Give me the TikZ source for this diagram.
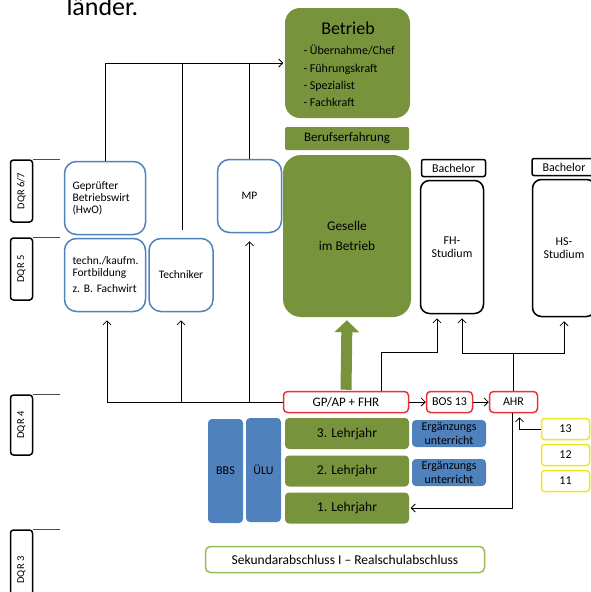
\documentclass[tikz,border=0pt]{standalone}
\usepackage{fontspec}
\setmainfont{Carlito}
\usetikzlibrary{arrows.meta}
\definecolor{olivgruen}{RGB}{119,147,60}
\definecolor{blau}{RGB}{79,129,189}
\definecolor{rot}{RGB}{238,48,48}
\definecolor{gelb}{RGB}{238,230,30}
\definecolor{hellgruen}{RGB}{155,187,89}
\tikzset{
	pfeil/.style={-{Straight Barb[length=4pt,width=8pt]}, line width=0.8pt},
	linie/.style={line width=0.8pt},
	box/.style={inner sep=0pt, text=black},
	gruenbox/.style={box, fill=olivgruen, rounded corners=4pt},
	blaubox/.style={box, fill=blau, rounded corners=4pt},
	blaurahmen/.style={box, draw=blau, line width=1.5pt, fill=white, rounded corners=12pt,
		minimum height=73pt, font=\fontsize{11.5}{12}\selectfont},
	rotrahmen/.style={box, draw=rot, line width=1.5pt, fill=white, rounded corners=4pt,
		minimum height=21pt},
	gelbrahmen/.style={box, draw=gelb, line width=1.5pt, rounded corners=3pt,
		minimum width=48pt, minimum height=21pt, font=\fontsize{12}{14}\selectfont},
	studium/.style={box, draw=black, line width=1.5pt, rounded corners=9pt,
		minimum width=63pt, align=center, font=\fontsize{12}{13}\selectfont},
	bachelor/.style={box, draw=black, line width=1.5pt, rounded corners=2pt,
		minimum height=17pt, font=\fontsize{12}{14}\selectfont},
	dqr/.style={box, draw=black, line width=1.5pt, rounded corners=3pt, rotate=90,
		minimum height=22pt, font=\fontsize{10.5}{12}\selectfont},
	dqrlinie/.style={line width=0.8pt, draw=black!70}
}
\begin{document}
\begin{tikzpicture}[x=1pt,y=-1pt]
	\useasboundingbox (0,0) rectangle (591,592);
	\clip (0,0) rectangle (591,592);
	\newcommand{\dqrStufe}[4]{
		% zeichnet eine DQR-Stufe am linken Rand
		% args:
		%     name
		%     mitte (y)
		%     laenge
		%     text
		\node[dqr, minimum width=#3pt] (#1) at (21.5,#2) {#4};
		\draw[dqrlinie] (#1.south east) -- ++(27,0);
	}
	% rest der ueberschrift
	\node[anchor=base west, font=\fontsize{26}{30}\selectfont] (titelrest) at (63,15.5) {länder.};
	%
	% DQR-Stufen
	\dqrStufe{dqr67}{191}{62}{DQR 6/7}
	\dqrStufe{dqr5}{269}{62}{DQR 5}
	\dqrStufe{dqr4}{425}{60}{DQR 4}
	\dqrStufe{dqr3}{570}{80}{DQR 3}
	%
	% Betrieb oben
	\node[gruenbox, rounded corners=15pt, minimum width=125pt, minimum height=110pt] (betrieb) at (347.5,63) {};
	\node[font=\fontsize{18}{20}\selectfont] (betriebtitel) at (348,28) {Betrieb};
	\node[anchor=west, align=left, font=\fontsize{12}{17.3}\selectfont] (betriebliste) at (300,76)
		{- Übernahme/Chef\\- Führungskraft\\- Spezialist\\- Fachkraft};
	\node[gruenbox, rounded corners=2pt, minimum width=124pt, minimum height=23pt,
		font=\fontsize{13}{15}\selectfont] (beruf) at (347,138.5) {Berufserfahrung};
	\node[gruenbox, rounded corners=18pt, minimum width=128pt, minimum height=162pt, align=center,
		font=\fontsize{13.3}{20}\selectfont] (geselle) at (347,236) {Geselle\\im Betrieb};
	%
	% Fortbildung links
	\node[blaurahmen, minimum width=81pt, text width=65pt, align=left] (gepruefter) at (105,198)
		{Geprüfter\\Betriebswirt\\(HwO)};
	\node[blaurahmen, minimum width=81pt, text width=65pt, align=left] (fortbildung) at (105,275)
		{techn./kaufm.\\Fortbildung\\[4pt]z.\ B.\ Fachwirt};
	\node[blaurahmen, minimum width=64pt] (techniker) at (181,275) {Techniker};
	\node[blaurahmen, minimum width=64pt] (mp) at (249.5,196) {MP};
	%
	% Studium rechts
	\node[bachelor, minimum width=64pt] (bachelorfh) at (453.5,168) {Bachelor};
	\node[studium, minimum height=133pt] (fh) at (452,247) {FH-\\Studium};
	\node[bachelor, minimum width=64pt] (bachelorhs) at (564,167) {Bachelor};
	\node[studium, minimum height=137pt] (hs) at (564,248) {HS-\\Studium};
	%
	% Abschluesse
	\node[rotrahmen, minimum width=125pt, font=\fontsize{13}{15}\selectfont] (gpap) at (346,402) {GP/AP + FHR};
	\node[rotrahmen, minimum width=46pt, font=\fontsize{12}{14}\selectfont] (bos) at (449.5,402) {BOS 13};
	\node[rotrahmen, minimum width=48pt, font=\fontsize{12}{14}\selectfont] (ahr) at (513.5,402) {AHR};
	%
	% Ausbildung
	\foreach \n/\y in {3/433.5, 2/471, 1/508}
		\node[gruenbox, minimum width=124pt, minimum height=31pt,
			font=\fontsize{13.5}{15}\selectfont] (lj\n) at (347,\y) {\n. Lehrjahr};
	\foreach \n/\y in {3/433.5, 2/472.5}
		\node[blaubox, minimum width=74pt, minimum height=27pt, align=center,
			font=\fontsize{12}{13.3}\selectfont] (erg\n) at (449,\y) {Ergänzungs\\unterricht};
	\node[blaubox, minimum width=35pt, minimum height=104pt, font=\fontsize{12}{14}\selectfont] (bbs) at (225.5,471) {BBS};
	\node[blaubox, minimum width=35pt, minimum height=104pt, font=\fontsize{12}{14}\selectfont] (ulu) at (263.5,470) {ÜLU};
	\foreach \k/\y in {13/429, 12/455, 11/481}
		\node[gelbrahmen] (kl\k) at (565.5,\y) {\k};
	\node[box, draw=hellgruen, line width=1.5pt, rounded corners=5pt, minimum width=279pt, minimum height=26pt,
		font=\fontsize{13.5}{15}\selectfont] (sek) at (345,559.5) {Sekundarabschluss I – Realschulabschluss};
	%
	% wege nach oben zum betrieb
	\coordinate (technikeroben) at (182,230);
	\draw[pfeil, shorten >=1.5pt] (gepruefter.north) |- (betrieb.west);
	\draw[linie] (technikeroben) -- (technikeroben |- betrieb.west);
	\draw[linie] (mp.north) -- (mp.north |- betrieb.west);
	% wege von GP/AP
	\draw[pfeil, shorten >=8pt] (gpap.west) -| ([xshift=2pt]fortbildung.south);
	\draw[pfeil, shorten >=8pt] (gpap.west -| techniker.south) -- (techniker.south);
	\draw[pfeil, shorten >=8pt] (gpap.west -| mp.south) -- (mp.south);
	\draw[draw=olivgruen, line width=11pt, -{Triangle[length=12pt,width=24pt]},
		shorten <=1pt, shorten >=3pt] (gpap.north) -- (geselle.south);
	\draw[pfeil, shorten >=4pt] ([xshift=35pt]gpap.north) -- ++(0,-38) -| ([xshift=-15pt]fh.south);
	\draw[pfeil, shorten >=4pt] (ahr.north) -- ++(0,-37) -| ([xshift=10pt]fh.south);
	\draw[pfeil, shorten >=4pt] (ahr.north) -- ++(0,-37) -| (hs.south);
	% zwischen den abschluessen
	\draw[pfeil] (gpap) -- (bos);
	\draw[pfeil] (bos) -- (ahr);
	\draw[pfeil, shorten >=4pt] (kl13.west) -| ([xshift=6pt]ahr.south);
	\draw[pfeil, shorten >=1.5pt] ([xshift=-1.5pt]ahr.south) |- (lj1.east);
\end{tikzpicture}
\end{document}
